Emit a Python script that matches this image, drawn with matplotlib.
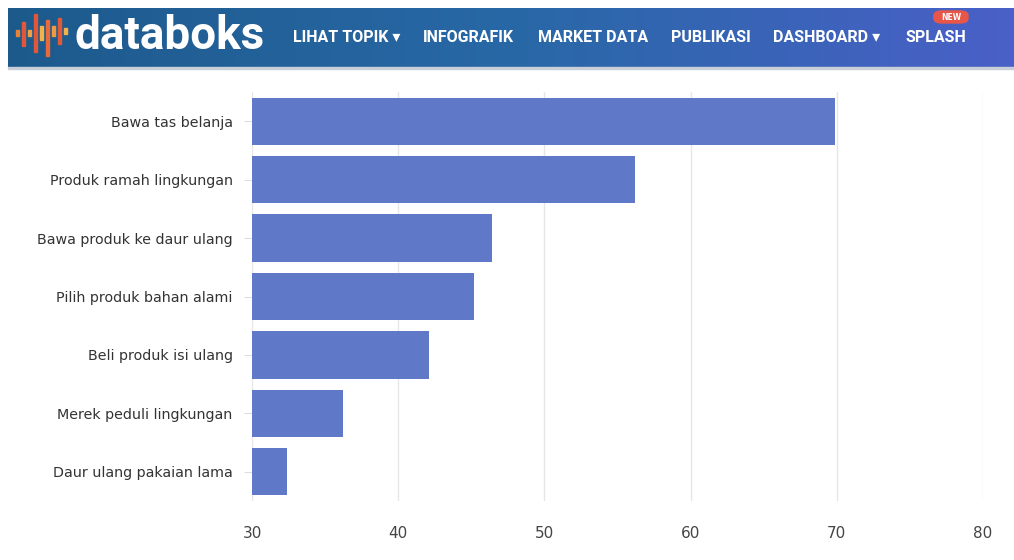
import numpy as np
import matplotlib.pyplot as plt
from matplotlib.patches import Rectangle, FancyBboxPatch
from matplotlib.colors import LinearSegmentedColormap

plt.rcParams['font.family'] = ['DejaVu Sans']

categories = [
    "Bawa tas belanja",
    "Produk ramah lingkungan",
    "Bawa produk ke daur ulang",
    "Pilih produk bahan alami",
    "Beli produk isi ulang",
    "Merek peduli lingkungan",
    "Daur ulang pakaian lama",
]
values = [69.9, 56.2, 46.4, 45.2, 42.1, 36.2, 32.4]
x_ticks = [30, 40, 50, 60, 70, 80]
nav_items = ["LIHAT TOPIK \u25be", "INFOGRAFIK", "MARKET DATA", "PUBLIKASI", "DASHBOARD \u25be", "SPLASH"]

W, H = 1014, 560
fig = plt.figure(figsize=(W / 100, H / 100), dpi=100)
fig.patch.set_facecolor("white")

# header banner
hdr = fig.add_axes([8 / W, 1 - 67 / H, 1 - 8 / W, 59 / H])
grad = np.linspace(0, 1, 256).reshape(1, -1)
cmap = LinearSegmentedColormap.from_list("hdr", ["#1d5a8c", "#2868a6", "#4a60c8"])
hdr.imshow(grad, aspect="auto", cmap=cmap, extent=[0, 1, 0, 1])
hdr.set_xlim(0, 1)
hdr.set_ylim(0, 1)
hdr.axis("off")
fig.patches.append(Rectangle((8 / W, 1 - 69 / H), 1 - 8 / W, 2 / H,
                             transform=fig.transFigure, color="#c9cfd8", zorder=1))

# logo bars
logo_bars = [(16, 30, 36, "#e8823a"), (22, 22, 46, "#e0573a"), (28, 30, 36, "#f0a040"),
             (34, 14, 52, "#e0573a"), (40, 26, 40, "#f2b24a"), (46, 20, 56, "#e86a3a"),
             (52, 26, 36, "#f09a40"), (58, 18, 44, "#e05a3a"), (64, 28, 34, "#f2b24a")]
for x, y0, y1, c in logo_bars:
    fig.patches.append(Rectangle((x / W, 1 - y1 / H), 3 / W, (y1 - y0) / H,
                                 transform=fig.transFigure, color=c, zorder=5))
fig.text(74 / W, 1 - 36 / H, "databoks", color="white", fontsize=33, fontweight="bold",
         va="center", ha="left", family=["Roboto", "DejaVu Sans"])
nav_x = [293, 423, 538, 671, 773, 905]
for x, t in zip(nav_x, nav_items):
    fig.text(x / W, 1 - 37 / H, t, color="white", fontsize=11.5, fontweight="bold",
             va="center", ha="left", family=["Roboto", "DejaVu Sans"])
badge = FancyBboxPatch((934 / W, 1 - 23 / H), 34 / W, 12 / H,
                       boxstyle="round,pad=0,rounding_size=0.008",
                       transform=fig.transFigure, color="#e8564a", zorder=5)
fig.patches.append(badge)
fig.text(951 / W, 1 - 17 / H, "NEW", color="white", fontsize=5.5, fontweight="bold",
         ha="center", va="center", zorder=6)

# chart
ax = fig.add_axes([252 / W, 1 - 501 / H, (983 - 252) / W, (501 - 92) / H])
y = np.arange(len(categories))
ax.barh(y, np.array(values) - 30, left=30, height=0.81, color="#5f78c8", zorder=3)
ax.set_ylim(len(categories) - 0.5, -0.5)
ax.set_xlim(30, 80)
ax.set_xticks(x_ticks)
ax.set_xticklabels([str(t) for t in x_ticks])
ax.set_yticks(y)
ax.set_yticklabels(categories)
ax.grid(axis="x", color="#e6e6e6", linewidth=1, zorder=0)
for s in ax.spines.values():
    s.set_visible(False)
ax.tick_params(axis="x", length=0, labelsize=11, colors="#444444", pad=18)
ax.tick_params(axis="y", length=6, color="#dddddd", labelsize=10.3, labelcolor="#333333", pad=8)

fig.savefig("out.png", dpi=100)
